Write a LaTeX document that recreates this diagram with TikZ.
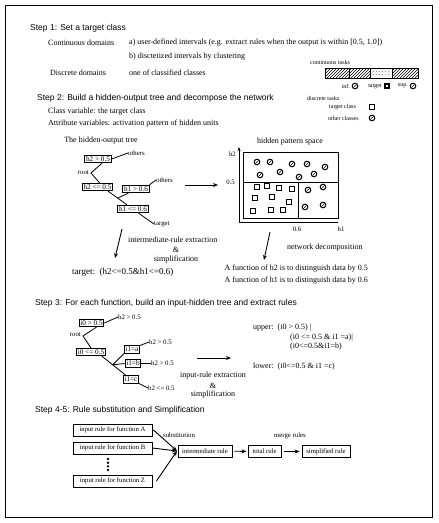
\documentclass[tikz,border=0pt]{standalone}
\usepackage{fontspec}
\setmainfont{Liberation Serif}
\newfontfamily\hfont{Liberation Sans}
\usetikzlibrary{arrows.meta,calc}
\begin{document}
\begin{tikzpicture}[x=1pt,y=-1pt,
  hd/.style={font=\hfont\fontsize{8.5}{10}\selectfont,anchor=west,inner sep=0pt},
  bt/.style={font=\fontsize{8}{10}\selectfont,anchor=west,inner sep=0pt},
  lg/.style={font=\fontsize{6}{7}\selectfont,inner sep=0pt},
  tb/.style={draw,line width=0.9pt,inner sep=1.2pt,font=\fontsize{7.2}{8}\selectfont},
  tl/.style={font=\fontsize{6.8}{8}\selectfont,inner sep=0pt},
  capt/.style={font=\fontsize{8}{10}\selectfont,inner sep=0pt},
  tgt/.style={font=\fontsize{9}{11}\selectfont,inner sep=0pt,anchor=west},
  rb/.style={draw,line width=0.9pt,inner sep=0pt,minimum height=12pt,font=\fontsize{6.7}{8}\selectfont},
  ln/.style={line width=0.8pt},
  arr/.style={line width=0.9pt,-{Stealth[length=5pt,width=4pt]}},
  hatch/.style={line width=0.45pt},
  circ/.pic={\draw[line width=1pt] (0,0) circle (2.8); \draw[line width=0.6pt] (-1.4,1.4) -- (1.4,-1.4);},
  sqr/.pic={\draw[line width=0.9pt] (-2.6,-2.6) rectangle (2.6,2.6);},
  sqf/.pic={\fill (-3,-3) rectangle (3,3); \fill[white] (-1.3,-1.3) rectangle (1.3,1.3);}
]
\useasboundingbox (0,0) rectangle (439,523);
\draw[line width=1pt] (5,5) rectangle (432,517);

% ---------- Step 1
\node[hd] (s1) at (30,28) {Step 1: Set a target class};
\node[bt] (cd) at (48,43) {Continuous domains};
\node[bt] (ca) at (129,43) {a) user-defined intervals (e.g. extract rules when the output is within [0.5, 1.0])};
\node[bt] (cb) at (129,57) {b) disctetized intervals by clustering};
\node[bt] (dd) at (50,73) {Discrete domains};
\node[bt] (dc) at (129,73) {one of classified classes};

% legend
\node[lg,anchor=west] (ct) at (310,62) {continuous tasks};
\begin{scope}
  \clip (325,68) rectangle (370,78);
  \foreach \i in {0,3,...,60} \draw[hatch] (315+\i,78) -- (325+\i,68);
\end{scope}
\begin{scope}
  \clip (392,68) rectangle (418,78);
  \foreach \i in {0,3,...,40} \draw[hatch] (382+\i,78) -- (392+\i,68);
\end{scope}
\foreach \xx in {372,375,...,390} \foreach \yy in {70,73,76} \fill[black!70] (\xx,\yy) circle (0.35);
\foreach \xx in {373.5,376.5,...,390} \foreach \yy in {71.5,74.5} \fill[black!70] (\xx,\yy) circle (0.35);
\draw[line width=0.8pt] (325,68) rectangle (418,78);
\draw[line width=0.8pt] (349,68) -- (349,78) (370,68) -- (370,78) (392,68) -- (392,78);
\node[lg,anchor=east] (linf) at (350,86) {inf.};
\pic at (355,86) {circ};
\node[lg,anchor=east] (ltg) at (382,86) {target};
\pic at (387,86) {sqf};
\node[lg,anchor=east] (lsup) at (408,86) {sup.};
\pic at (413,86) {circ};
\node[lg,anchor=west] (dt) at (307,98) {discrete tasks};
\node[lg,anchor=west] (ltc) at (329,107) {target class};
\pic at (372,107) {sqr};
\node[lg,anchor=west] (loc) at (328,118) {other classes};
\pic at (372,118) {circ};

% ---------- Step 2
\node[hd] (s2) at (37,98) {Step 2: Build a hidden-output tree and decompose the network};
\node[bt] (cv) at (48,112) {Class variable: the target class};
\node[bt] (av) at (48,124) {Attribute variables: activation pattern of hidden units};

\node[capt] (tt) at (101,141) {The hidden-output tree};
\node[tb] (A) at (98,159) {h2 > 0.5};
\node[tl,anchor=west] (Aot) at (128,153) {others};
\draw[ln] (A.east) -- (Aot.west);
\node[tl,anchor=east] (root) at (89,173) {root};
\coordinate (R) at (91,173);
\node[tb] (B) at (97.5,187) {h2 <= 0.5};
\draw[ln] ($(A.south)+(4,0)$) -- (R) -- ($(B.north)+(2,0)$);
\node[tb] (C) at (136,189) {h1 > 0.6};
\node[tl,anchor=west] (Cot) at (156,180) {others};
\draw[ln] (C.north east) -- (Cot.west);
\node[tb] (D) at (133,209) {h1 <= 0.6};
\coordinate (Bo) at ($(B.south east)+(-5,0)$);
\coordinate (Di) at ($(D.north)+(-6,0)$);
\draw[ln] (Bo) -- (Di);
\coordinate (J) at ($(Bo)!0.5!(Di)$);
\draw[ln] (J) -- ($(C.south west)+(6,0)$);
\node[tl,anchor=west] (Dt) at (154,224) {target};
\draw[ln] ($(D.south east)+(-10,0)$) -- (Dt.west);

\coordinate (a1s) at (122,229);
\coordinate (a1e) at (115,258);
\draw[arr] (a1s) -- (a1e);
\node[capt,anchor=west] (ire) at (128,240) {intermediate-rule extraction};
\node[capt] (amp1) at (176,250) {\&};
\node[capt] (sim1) at (176,260) {simplification};
\node[tgt] (tr) at (72,272) {target:\ \ (h2<=0.5\&h1<=0.6)};

\coordinate (a2s) at (185,185);
\coordinate (a2e) at (218,185);
\draw[arr] (a2s) -- (a2e);

% hidden pattern space
\node[capt] (hps) at (290,142) {hidden pattern space};
\draw[ln] (243,152) rectangle (338,218);
\draw[ln] (243,182) -- (338,182);
\draw[ln] (298,182) -- (298,218);
\draw[ln,-{Stealth[length=4pt,width=3pt]}] (338,222) -- (239,222) -- (239,147);
\node[tl,anchor=east] (lh2) at (236,154) {h2};
\node[tl,anchor=east] (l05) at (235,182) {0.5};
\node[tl] (l06) at (297,229) {0.6};
\node[tl] (lh1) at (341,229) {h1};
\foreach \p in {(257,162),(270,162),(292,164),(307,164),(325,167),(260,175),(280,172),(299,177),(314,174),(308,190),(323,187),(305,207),(323,205)}
  \pic at \p {circ};
\foreach \p in {(257,187),(267,186),(279,188),(292,189),(255,198),(272,197),(289,202),(253,211),(271,210),(283,210)}
  \pic at \p {sqr};

\coordinate (a3s) at (270,232);
\coordinate (a3e) at (264,260);
\draw[arr] (a3s) -- (a3e);
\node[capt,anchor=west] (nd) at (287,248) {network decomposition};
\node[capt,anchor=east] (f2) at (368,269) {A function of h2 is to distinguish data by 0.5};
\node[capt,anchor=east] (f1) at (368,281) {A function of h1 is to distinguish data by 0.6};

% ---------- Step 3
\node[hd] (s3) at (35,303) {Step 3: For each function, build an input-hidden tree and extract rules};
\node[tb] (E) at (91.5,323) {i0 > 0.5};
\node[tl,anchor=west] (Eh) at (118,317) {h2 > 0.5};
\draw[ln] (E.east) -- (Eh.west);
\node[tl,anchor=east] (root2) at (81,335) {root};
\coordinate (R2) at (83,336);
\node[tb] (F) at (91,352) {i0 <= 0.5};
\draw[ln] ($(E.south)+(5,0)$) -- (R2) -- (F.north);
\node[tb] (G) at (132,349.5) {i1=a};
\node[tb] (H) at (133,363.5) {i1=b};
\node[tb] (I) at (131,379.5) {i1=c};
\coordinate (Fo) at ($(F.south east)+(-4,0)$);
\coordinate (Ii) at ($(I.north)+(-5,0)$);
\draw[ln] (Fo) -- (Ii);
\coordinate (J2) at ($(Fo)!0.45!(Ii)$);
\draw[ln] (J2) -- (G.south west);
\draw[ln] (J2) -- (H.west);
\node[tl,anchor=west] (Gh) at (149,342) {h2 > 0.5};
\draw[ln] (G.north east) -- (Gh.west);
\node[tl,anchor=west] (Hh) at (151,363.5) {h2 > 0.5};
\draw[ln] (H.east) -- (Hh.west);
\node[tl,anchor=west] (Ih) at (148,388) {h2 <= 0.5};
\draw[ln] (I.south east) -- (Ih.west);

\coordinate (a4s) at (197,358);
\coordinate (a4e) at (231,358);
\draw[arr] (a4s) -- (a4e);
\node[capt] (ire2) at (213,376) {input-rule extraction};
\node[capt] (amp2) at (213,386) {\&};
\node[capt] (sim2) at (213,395) {simplification};

\node[capt,anchor=west] (up1) at (253,328) {upper:\ \ (i0 > 0.5) |};
\node[capt,anchor=west] (up2) at (290,338) {(i0 <= 0.5 \& i1 =a)|};
\node[capt,anchor=west] (up3) at (290,347) {(i0<=0.5\&i1=b)};
\node[capt,anchor=west] (lo1) at (253,367) {lower:\ \ (i0<=0.5 \& i1 =c)};

% ---------- Step 4-5
\node[hd] (s4) at (35,410) {Step 4-5: Rule substitution and Simplification};
\node[rb,minimum width=79pt] (fA) at (112.5,430) {input rule for function A};
\node[rb,minimum width=79pt] (fB) at (112.5,448) {input rule for function B};
\node[rb,minimum width=79pt] (fZ) at (112.5,481) {input rule for function Z};
\foreach \yy in {459,462.7,466.3,470} \fill (108,\yy) circle (1.3);
\node[rb,minimum width=54pt] (im) at (205,451) {intermediate rule};
\node[rb,minimum width=33pt] (tot) at (264.5,451.5) {total rule};
\node[rb,minimum width=48pt] (simp) at (326,451.5) {simplified rule};
\coordinate (conv) at (177,451);
\draw[arr] ($(fA.east)+(1,0)$) -- (conv);
\draw[arr] (fB.east) -- (conv);
\draw[arr] ($(fZ.east)+(4,0)$) -- (conv);
\draw[arr,shorten <=2pt,shorten >=1pt] (im) -- (tot);
\draw[arr,shorten <=3pt,shorten >=2pt] (tot) -- (simp);
\node[tl,anchor=west] (sub) at (163,435) {substitution};
\node[tl] (mr) at (290,436) {merge rules};
\end{tikzpicture}
\end{document}
